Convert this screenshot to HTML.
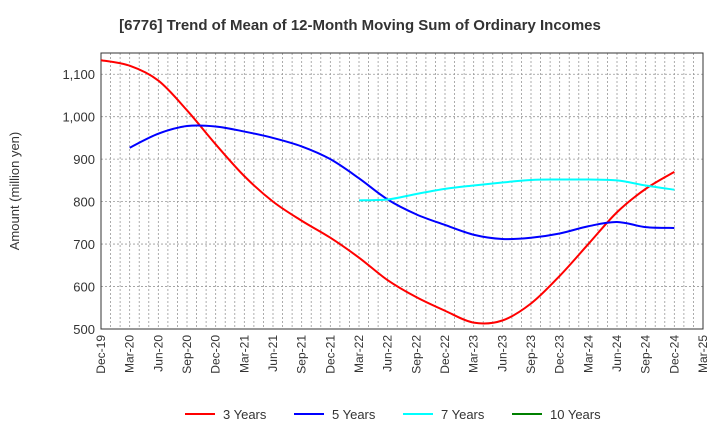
<!DOCTYPE html>
<html><head><meta charset="utf-8"><style>
body{margin:0;background:#fff;font-family:"Liberation Sans",sans-serif}
</style></head><body>
<svg id="c" width="720" height="440" xmlns="http://www.w3.org/2000/svg"></svg>
<script>
const categories=["Dec-19","Mar-20","Jun-20","Sep-20","Dec-20","Mar-21","Jun-21","Sep-21","Dec-21","Mar-22","Jun-22","Sep-22","Dec-22","Mar-23","Jun-23","Sep-23","Dec-23","Mar-24","Jun-24","Sep-24","Dec-24","Mar-25"];
const yTicks=[500,600,700,800,900,1000,1100];
const yTickLabels=["500","600","700","800","900","1,000","1,100"];
const s3=[1133,1120,1085,1015,935,860,800,755,715,668,615,575,543,515,520,560,625,700,775,830,870];
const s5=[null,927,960,978,977,965,950,930,900,855,805,770,745,722,712,715,725,742,752,740,738];
const s7=[null,null,null,null,null,null,null,null,null,803,805,818,830,838,845,851,852,852,850,838,828];
const s10=[];
const series=[{n:"3 Years",c:"#ff0000",d:s3},{n:"5 Years",c:"#0000ff",d:s5},{n:"7 Years",c:"#00ffff",d:s7},{n:"10 Years",c:"#008000",d:s10}];
const L=101,R=703,T=53,B=329,ymin=500,ymax=1150;
const x=i=>L+(R-L)*i/(categories.length-1);
const y=v=>B-(v-ymin)/(ymax-ymin)*(B-T);
const svg=document.getElementById('c');const NS="http://www.w3.org/2000/svg";
function mk(t,a,p){const e=document.createElementNS(NS,t);for(const k in a)e.setAttribute(k,a[k]);(p||svg).appendChild(e);return e;}
let e=mk('text',{x:360,y:30,'text-anchor':'middle','font-size':15,'font-weight':'bold',fill:'#333'});e.textContent="[6776]  Trend of Mean of 12-Month Moving Sum of Ordinary Incomes";

const g=mk('g',{});
for(let m=1;m<(categories.length-1)*3;m++){const xx=L+(R-L)*m/((categories.length-1)*3);mk('line',{x1:xx,x2:xx,y1:T,y2:B,stroke:'#999','stroke-dasharray':'2,2','stroke-width':0.8},g);}
yTicks.forEach((v,i)=>{if(i>0)mk('line',{x1:L,x2:R,y1:y(v),y2:y(v),stroke:'#999','stroke-dasharray':'2,2','stroke-width':0.8},g);
const t=mk('text',{x:L-6,y:y(v)+5,'text-anchor':'end','font-size':13,fill:'#333'});t.textContent=yTickLabels[i];});
categories.forEach((c,i)=>{const t=mk('text',{transform:`translate(${x(i)+4},${B+6}) rotate(-90)`,'text-anchor':'end','font-size':12,fill:'#333'});t.textContent=c;});
const fr=mk('rect',{x:L,y:T,width:R-L,height:B-T,fill:'none',stroke:'#333','stroke-width':1});
e=mk('text',{transform:`translate(19,${(T+B)/2}) rotate(-90)`,'text-anchor':'middle','font-size':13,fill:'#333'});e.textContent="Amount (million yen)";
function path(pts){if(pts.length<2)return"";let d=`M${pts[0][0]},${pts[0][1]}`;for(let i=0;i<pts.length-1;i++){const p0=pts[i-1]||pts[i],p1=pts[i],p2=pts[i+1],p3=pts[i+2]||p2;
d+=`C${p1[0]+(p2[0]-p0[0])/6},${p1[1]+(p2[1]-p0[1])/6} ${p2[0]-(p3[0]-p1[0])/6},${p2[1]-(p3[1]-p1[1])/6} ${p2[0]},${p2[1]}`;}return d;}
series.forEach(s=>{const pts=[];s.d.forEach((v,i)=>{if(v!=null)pts.push([x(i),y(v)]);});
const p=mk('path',{d:path(pts),fill:'none',stroke:s.c,'stroke-width':2});});
const lx=[185,294,403,512];
series.forEach((s,i)=>{const lg=mk('g',{});
mk('line',{x1:lx[i],x2:lx[i]+30,y1:414,y2:414,stroke:s.c,'stroke-width':2},lg);
const t=mk('text',{x:lx[i]+38,y:419,'font-size':13,fill:'#333'},lg);t.textContent=s.n;});
</script>
</body></html>
